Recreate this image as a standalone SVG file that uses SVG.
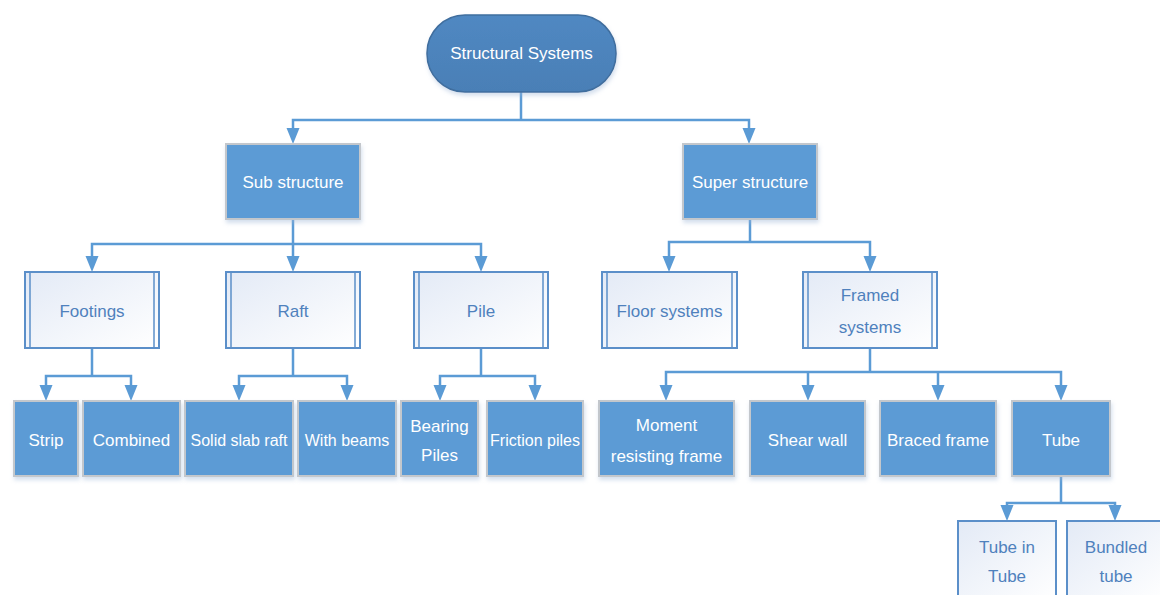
<svg xmlns="http://www.w3.org/2000/svg" width="1160" height="595" viewBox="0 0 1160 595">
<defs>
<linearGradient id="lg" x1="0" y1="0" x2="1" y2="1">
<stop offset="0" stop-color="#e3eaf6"/>
<stop offset="1" stop-color="#ffffff"/>
</linearGradient>
<linearGradient id="pg" x1="0" y1="0" x2="0" y2="1">
<stop offset="0" stop-color="#5088c2"/>
<stop offset="1" stop-color="#4a7fb6"/>
</linearGradient>
<filter id="sh" x="-10%" y="-10%" width="125%" height="130%">
<feDropShadow dx="1" dy="3" stdDeviation="2" flood-color="#9fb8d8" flood-opacity="0.45"/>
</filter>
</defs>
<style>
.con{fill:none;stroke:#5b9bd5;stroke-width:2.5}
.arr{fill:#5b9bd5}
.dark{fill:#5b9bd5;stroke:#c3c7cc;stroke-width:2;filter:url(#sh)}
.light{fill:url(#lg);stroke:#5b8fc9;stroke-width:2}
.inner{stroke:#5b8fc9;stroke-width:1.5}
.tw{font-family:"Liberation Sans",Arial,sans-serif;font-size:17px;fill:#ffffff;text-anchor:middle;dominant-baseline:central}
.tb{font-family:"Liberation Sans",Arial,sans-serif;font-size:17px;fill:#4f81bd;text-anchor:middle;dominant-baseline:central}
</style>
<rect width="1160" height="595" fill="#ffffff"/>

<g id="connectors">
<path class="con" d="M521,92 V120 H293 V131 M521,120 H749 V131"/>
<path class="con" d="M293,219 V244 H92 V259 M293,244 V259 M293,244 H481 V259"/>
<path class="con" d="M750,219 V242 H669 V259 M750,242 H870 V259"/>
<path class="con" d="M92,348 V376 H46 V388 M92,376 H131 V388"/>
<path class="con" d="M293,348 V376 H239 V388 M293,376 H347 V388"/>
<path class="con" d="M481,348 V376 H440 V388 M481,376 H535 V388"/>
<path class="con" d="M870,348 V372 H666 V388 M870,372 H808 V388 M870,372 H938 V388 M870,372 H1061 V388"/>
<path class="con" d="M1061,476 V503 H1007 V508 M1061,503 H1115 V508"/>
<g class="arr">
<path d="M286.5,128 L299.5,128 L293,144 Z"/>
<path d="M742.5,128 L755.5,128 L749,144 Z"/>
<path d="M85.5,256 L98.5,256 L92,272 Z"/>
<path d="M286.5,256 L299.5,256 L293,272 Z"/>
<path d="M474.5,256 L487.5,256 L481,272 Z"/>
<path d="M662.5,256 L675.5,256 L669,272 Z"/>
<path d="M863.5,256 L876.5,256 L870,272 Z"/>
<path d="M39.5,385 L52.5,385 L46,401 Z"/>
<path d="M124.5,385 L137.5,385 L131,401 Z"/>
<path d="M232.5,385 L245.5,385 L239,401 Z"/>
<path d="M340.5,385 L353.5,385 L347,401 Z"/>
<path d="M433.5,385 L446.5,385 L440,401 Z"/>
<path d="M528.5,385 L541.5,385 L535,401 Z"/>
<path d="M659.5,385 L672.5,385 L666,401 Z"/>
<path d="M801.5,385 L814.5,385 L808,401 Z"/>
<path d="M931.5,385 L944.5,385 L938,401 Z"/>
<path d="M1054.5,385 L1067.5,385 L1061,401 Z"/>
<path d="M1000.5,505 L1013.5,505 L1007,521 Z"/>
<path d="M1108.5,505 L1121.5,505 L1115,521 Z"/>
</g>
</g>

<g id="root">
<rect x="427" y="15" width="189" height="77" rx="38" ry="38" fill="url(#pg)" stroke="#3f6e9e" stroke-width="1.5" filter="url(#sh)"/>
<text class="tw" x="521.5" y="53">Structural Systems</text>
</g>

<g id="sub">
<rect class="dark" x="226" y="144" width="134" height="75"/>
<text class="tw" x="293" y="182">Sub structure</text>
</g>
<g id="super">
<rect class="dark" x="683" y="144" width="134" height="75"/>
<text class="tw" x="750" y="182">Super structure</text>
</g>

<g id="footings">
<rect class="light" x="25" y="272" width="134" height="76"/>
<line class="inner" x1="30" y1="272" x2="30" y2="348"/><line class="inner" x1="154" y1="272" x2="154" y2="348"/>
<text class="tb" x="92" y="311">Footings</text>
</g>
<g id="raft">
<rect class="light" x="226" y="272" width="134" height="76"/>
<line class="inner" x1="231" y1="272" x2="231" y2="348"/><line class="inner" x1="355" y1="272" x2="355" y2="348"/>
<text class="tb" x="293" y="311">Raft</text>
</g>
<g id="pile">
<rect class="light" x="414" y="272" width="134" height="76"/>
<line class="inner" x1="419" y1="272" x2="419" y2="348"/><line class="inner" x1="543" y1="272" x2="543" y2="348"/>
<text class="tb" x="481" y="311">Pile</text>
</g>
<g id="floor">
<rect class="light" x="602" y="272" width="135" height="76"/>
<line class="inner" x1="607" y1="272" x2="607" y2="348"/><line class="inner" x1="732" y1="272" x2="732" y2="348"/>
<text class="tb" x="669.5" y="311">Floor systems</text>
</g>
<g id="framed">
<rect class="light" x="803" y="272" width="134" height="76"/>
<line class="inner" x1="808" y1="272" x2="808" y2="348"/><line class="inner" x1="932" y1="272" x2="932" y2="348"/>
<text class="tb" x="870" y="295">Framed</text>
<text class="tb" x="870" y="327">systems</text>
</g>

<g id="strip">
<rect class="dark" x="14" y="401" width="64" height="75"/>
<text class="tw" x="46" y="440">Strip</text>
</g>
<g id="combined">
<rect class="dark" x="83" y="401" width="97" height="75"/>
<text class="tw" x="131.5" y="440">Combined</text>
</g>
<g id="solidslab">
<rect class="dark" x="185" y="401" width="108" height="75"/>
<text class="tw" x="239" y="440" style="font-size:16px">Solid slab raft</text>
</g>
<g id="withbeams">
<rect class="dark" x="298" y="401" width="98" height="75"/>
<text class="tw" x="347" y="440" style="font-size:16px">With beams</text>
</g>
<g id="bearing">
<rect class="dark" x="401" y="401" width="77" height="75"/>
<text class="tw" x="439.5" y="426">Bearing</text>
<text class="tw" x="439.5" y="455">Piles</text>
</g>
<g id="friction">
<rect class="dark" x="487" y="401" width="96" height="75"/>
<text class="tw" x="535" y="440" style="font-size:16px">Friction piles</text>
</g>
<g id="moment">
<rect class="dark" x="599" y="401" width="135" height="75"/>
<text class="tw" x="666.5" y="425">Moment</text>
<text class="tw" x="666.5" y="456">resisting frame</text>
</g>
<g id="shear">
<rect class="dark" x="750" y="401" width="115" height="75"/>
<text class="tw" x="807.5" y="440">Shear wall</text>
</g>
<g id="braced">
<rect class="dark" x="880" y="401" width="116" height="75"/>
<text class="tw" x="938" y="440">Braced frame</text>
</g>
<g id="tube">
<rect class="dark" x="1012" y="401" width="98" height="75"/>
<text class="tw" x="1061" y="440">Tube</text>
</g>

<g id="tubeintube">
<rect class="light" x="958" y="521" width="98" height="80"/>
<text class="tb" x="1007" y="547">Tube in</text>
<text class="tb" x="1007" y="576">Tube</text>
</g>
<g id="bundled">
<rect class="light" x="1067" y="521" width="98" height="80"/>
<text class="tb" x="1116" y="547">Bundled</text>
<text class="tb" x="1116" y="576">tube</text>
</g>
</svg>
